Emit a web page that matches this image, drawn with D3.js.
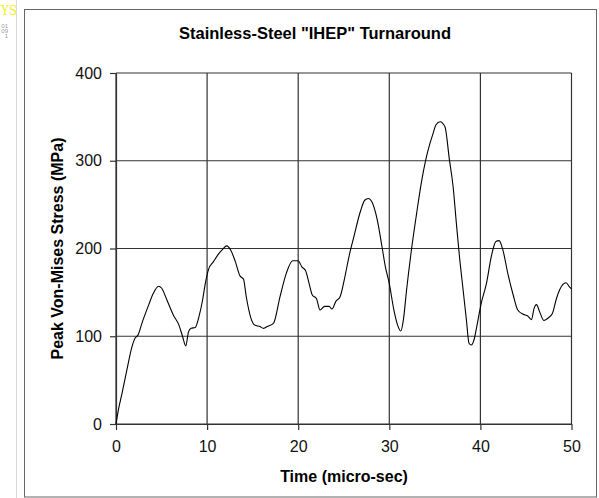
<!DOCTYPE html>
<html>
<head>
<meta charset="utf-8">
<script src="https://cdn.jsdelivr.net/npm/d3@7"></script>
<style>
  html, body { margin: 0; padding: 0; background: #fff; }
  svg { display: block; font-family: Arial, "Liberation Sans", sans-serif; }
</style>
</head>
<body>
<svg id="chart" width="599" height="498"></svg>
<script>
// ---- data ----
const timeUs = [0, 0.3, 0.66, 1.2, 1.75, 2.1, 2.4, 2.85, 3.6, 4.1, 4.67, 5.0, 5.6, 6.3, 6.9, 7.3, 7.66,
  7.96, 8.25, 8.7, 9.1, 9.5, 9.8, 10.15, 10.7, 11.2, 11.7, 12.15, 12.6, 13.1, 13.6, 14.0, 14.3, 14.8,
  15.2, 15.8, 16.2, 16.6, 17.3, 18.0, 18.7, 19.4, 20.0, 20.4, 20.8, 21.2, 21.55, 22.0, 22.4, 22.9, 23.4,
  23.7, 24.15, 24.6, 25.05, 25.6, 26.1, 26.85, 27.3, 27.7, 28.1, 28.65, 29.2, 29.57, 30.0, 30.5, 30.9,
  31.26, 31.55, 31.9, 32.45, 33.0, 33.5, 34.0, 34.47, 34.8, 35.13, 35.57, 36.1, 36.6, 37.0, 37.36, 37.7,
  38.1, 38.46, 38.75, 39.0, 39.3, 39.6, 40.1, 40.66, 41.2, 41.7, 42.05, 42.5, 43.0, 43.6, 44.1, 44.7,
  45.2, 45.6, 45.9, 46.15, 46.5, 46.96, 47.4, 47.9, 48.35, 48.7, 49.4, 49.8, 50];
const stressMPa = [0, 18, 35, 62, 88, 98, 101, 115, 136, 149, 157, 155, 141, 124, 113, 100, 89,
  105, 109, 110, 122, 141, 160, 176, 185, 193, 199, 203, 198, 185, 169, 165, 145, 121,
  113, 111, 109, 111, 115, 145, 172, 186, 186, 179, 175, 160, 147, 143, 130, 134, 134,
  131, 140, 145, 164, 192, 213, 243, 255, 257, 253, 234, 202, 179, 160, 130, 113,
  106, 119, 153, 200, 240, 274, 301, 320, 331, 341, 344.5, 339, 301, 271, 229, 191,
  153, 119, 92, 90, 96, 111, 138, 160, 191, 208, 209, 197, 172, 147, 130, 125,
  123, 119, 132, 136, 128, 118, 120.5, 126, 143, 153, 161, 156, 154];
const xTicks = [0, 10, 20, 30, 40, 50];
const yTicks = [0, 100, 200, 300, 400];

const points = timeUs.map((t, i) => ({t, s: stressMPa[i]}));

// ---- layout ----
const svg = d3.select('#chart');
const plot = {left: 116, right: 571.5, top: 73, bottom: 424};

const x = d3.scaleLinear().domain([0, 50]).range([plot.left, plot.right]);
const y = d3.scaleLinear().domain([0, 400]).range([plot.bottom, plot.top]);

// page artefact on the left edge (cropped neighbour)
svg.append('line')
  .attr('x1', 16.5).attr('x2', 16.5).attr('y1', 0).attr('y2', 498)
  .attr('stroke', '#d8d8d8');
svg.append('text')
  .attr('x', 1).attr('y', 15)
  .attr('font-family', 'DejaVu Serif, serif').attr('font-size', 12)
  .attr('fill', '#f5ee1a').text('YS');
svg.selectAll('text.tiny').data(['01', '09', '1']).join('text')
  .attr('class', 'tiny')
  .attr('x', 8).attr('y', (d, i) => 28 + i * 5)
  .attr('text-anchor', 'end')
  .attr('font-size', 6).attr('fill', '#999')
  .text(d => d);

// chart frame
svg.append('rect')
  .attr('x', 24.5).attr('y', 9.5).attr('width', 572).attr('height', 487.5)
  .attr('fill', '#fff').attr('stroke', '#666');

// gridlines
const grid = svg.append('g').attr('stroke', '#333').attr('stroke-width', 1.2);
grid.selectAll('line.h').data(yTicks).join('line')
  .attr('class', 'h')
  .attr('x1', plot.left).attr('x2', plot.right)
  .attr('y1', d => y(d)).attr('y2', d => y(d));
grid.selectAll('line.v').data(xTicks).join('line')
  .attr('class', 'v')
  .attr('x1', d => x(d)).attr('x2', d => x(d))
  .attr('y1', plot.top).attr('y2', plot.bottom);

// axes
const xAxis = svg.append('g').attr('transform', `translate(0,${plot.bottom})`)
  .call(d3.axisBottom(x).tickValues(xTicks).tickSize(6).tickPadding(11).tickSizeOuter(0));
const yAxis = svg.append('g').attr('transform', `translate(${plot.left},0)`)
  .call(d3.axisLeft(y).tickValues(yTicks).tickSize(6).tickPadding(8).tickSizeOuter(0));
[xAxis, yAxis].forEach(a => {
  a.select('.domain').attr('stroke', '#333').attr('stroke-width', 1.2);
  a.selectAll('.tick line').attr('stroke', '#333').attr('stroke-width', 1.2);
  a.selectAll('.tick text')
    .attr('font-family', 'Arial, "Liberation Sans", sans-serif')
    .attr('font-size', 16).attr('fill', '#111');
});

// series line
svg.append('path')
  .datum(points)
  .attr('fill', 'none')
  .attr('stroke', '#000')
  .attr('stroke-width', 1.1)
  .attr('d', d3.line().x(d => x(d.t)).y(d => y(d.s)).curve(d3.curveMonotoneX));

// titles
svg.append('text')
  .attr('x', 315).attr('y', 39).attr('text-anchor', 'middle')
  .attr('font-size', 16.5).attr('font-weight', 'bold').attr('fill', '#000')
  .text('Stainless-Steel "IHEP" Turnaround');

svg.append('text')
  .attr('x', 344).attr('y', 482).attr('text-anchor', 'middle')
  .attr('font-size', 16).attr('font-weight', 'bold').attr('fill', '#000')
  .text('Time (micro-sec)');

svg.append('text')
  .attr('transform', `translate(63,${(plot.top + plot.bottom) / 2}) rotate(-90)`)
  .attr('text-anchor', 'middle')
  .attr('font-size', 16).attr('font-weight', 'bold').attr('fill', '#000')
  .text('Peak Von-Mises Stress (MPa)');
</script>
</body>
</html>
